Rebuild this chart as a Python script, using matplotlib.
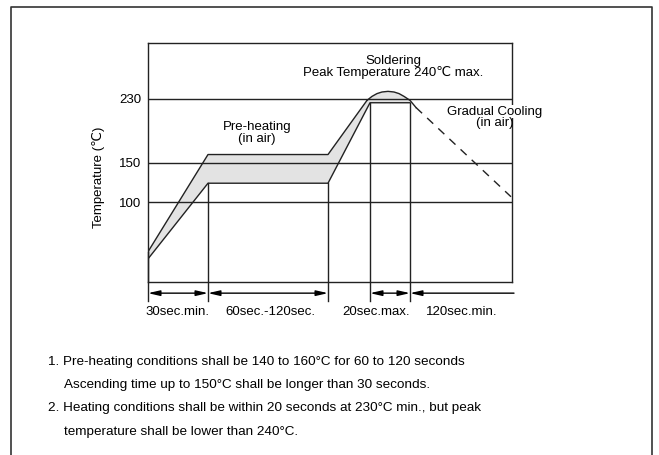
import matplotlib
matplotlib.use("Agg")
import matplotlib.pyplot as plt
from matplotlib.lines import Line2D

# ── Data (schematic time axis) ───────────────────────────────────────────────
upper_t = [0, 30, 90, 109.5]
upper_T = [38, 160, 160, 228]
arc_t = [109.5, 112, 114.5, 117, 120, 123, 125.5, 128, 131, 134]
arc_T = [228, 233, 236.5, 238.5, 239.3, 238.5, 236.5, 233, 228, 219]
lower_t = [0, 30, 90, 111, 131]
lower_T = [29, 124, 124, 225, 225]
cool_t = [134, 181.5]
cool_T = [219, 107]

grid_T = [100, 150, 230]
vline_t = [0, 30, 90, 111, 131]
vline_top = [38, 124, 124, 225, 225]

span_start = [0, 30, 111, 131]
span_end = [30, 90, 131, 183]
span_style = ["<|-|>", "<|-|>", "<|-|>", "<|-"]
span_labels = ["30sec.min.", "60sec.-120sec.", "20sec.max.", "120sec.min."]
span_label_t = [14.5, 61, 114, 157]

notes = [
    "1. Pre-heating conditions shall be 140 to 160°C for 60 to 120 seconds",
    "Ascending time up to 150°C shall be longer than 30 seconds.",
    "2. Heating conditions shall be within 20 seconds at 230°C min., but peak",
    "temperature shall be lower than 240°C.",
]
note_indent = [False, True, False, True]

fam = ["Liberation Sans", "DejaVu Sans"]
plt.rcParams["font.family"] = fam

W, H = 659, 455
fig = plt.figure(figsize=(W / 100, H / 100), dpi=100)
ax = fig.add_axes([148 / W, 1 - 282 / H, (512 - 148) / W, (282 - 43) / H])
ax.set_xlim(0, 182)
ax.set_ylim(0, 300)

ink = "#222222"

# shaded band: upper boundary (ramps + arc) and lower boundary back
full_up_t = upper_t + arc_t[1:9]
full_up_T = upper_T + arc_T[1:9]
poly_t = full_up_t + lower_t[::-1]
poly_T = full_up_T + lower_T[::-1]
ax.fill(poly_t, poly_T, color="#e3e3e3", zorder=1, lw=0)

for T in grid_T:
    ax.axhline(T, color=ink, lw=1.0, zorder=2)

ax.plot(upper_t, upper_T, color=ink, lw=1.0, zorder=3)
ax.plot(arc_t, arc_T, color=ink, lw=1.0, zorder=3)
ax.plot(lower_t, lower_T, color=ink, lw=1.0, zorder=3)
ax.plot(cool_t, cool_T, color=ink, lw=1.0, ls=(0, (6, 5)), zorder=3)

for t, top in zip(vline_t, vline_top):
    ax.plot([t, t], [top, -24], color=ink, lw=1.0, clip_on=False, zorder=3)

for s, e, st in zip(span_start, span_end, span_style):
    ax.annotate("", xy=(e, -14), xytext=(s, -14), xycoords="data",
                arrowprops=dict(arrowstyle=st + ",head_length=0.7,head_width=0.16",
                                color="black", lw=1.0, shrinkA=0, shrinkB=0,
                                mutation_scale=10),
                annotation_clip=False)

for lab, t in zip(span_labels, span_label_t):
    ax.text(t, -37.5, lab, ha="center", va="center", fontsize=9.5, clip_on=False)

ax.text(122.5, 277, "Soldering", ha="center", va="center", fontsize=9.5)
ax.text(122.5, 263, "Peak Temperature 240℃ max.", ha="center", va="center",
        fontsize=9.5, family=fam)
ax.text(54.5, 194, "Pre-heating", ha="center", va="center", fontsize=9.5)
ax.text(54.5, 179, "(in air)", ha="center", va="center", fontsize=9.5)
ax.text(173.5, 214, "Gradual Cooling", ha="center", va="center", fontsize=9.5,
        clip_on=False, zorder=5,
        bbox=dict(facecolor="white", edgecolor="none", pad=0.5))
ax.text(173.5, 199, "(in air)", ha="center", va="center", fontsize=9.5,
        clip_on=False, zorder=5)

ax.set_yticks(grid_T)
ax.set_yticklabels([str(v) for v in grid_T], fontsize=9.5)
ax.set_xticks([])
ax.tick_params(axis="y", length=0, pad=5)
ax.set_ylabel("Temperature (℃)", fontsize=9.5, labelpad=5, family=fam)
ax.yaxis.set_label_coords(-0.118, 0.44)
for sp in ax.spines.values():
    sp.set_color(ink)
    sp.set_linewidth(1.0)

# outer frame (open at the bottom)
fx = [11 / W, 11 / W, 652 / W, 652 / W]
fy = [0, 1 - 7 / H, 1 - 7 / H, 0]
fig.add_artist(Line2D(fx, fy, color="#333333", lw=1.2, transform=fig.transFigure))

note_y = [362, 385, 408, 432]
for txt, y, ind in zip(notes, note_y, note_indent):
    x0 = 64 if ind else 48
    fig.text(x0 / W, 1 - y / H, txt, ha="left", va="center", fontsize=9.7)

fig.savefig("out.png", dpi=100)
